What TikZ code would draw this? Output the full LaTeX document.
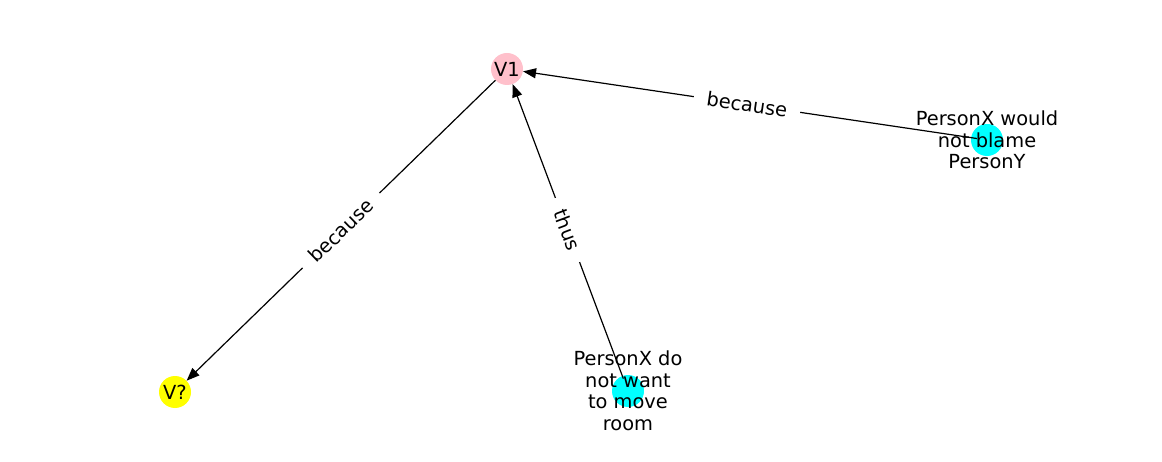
\documentclass[tikz,border=0pt]{standalone}
\usepackage{fontspec}
\setmainfont{DejaVu Sans}
\usetikzlibrary{arrows.meta}
\definecolor{pinkc}{RGB}{255,192,203}
\definecolor{cyanc}{RGB}{0,255,255}
\definecolor{yellowc}{RGB}{255,255,0}
\begin{document}
\begin{tikzpicture}[x=1pt,y=-1pt,font=\fontsize{19.4}{21.5}\selectfont,
  dot/.style={circle,inner sep=0pt,minimum size=32pt,draw=none},
  edge/.style={line width=1.2pt,-{Triangle[length=13pt,width=10pt]}},
  elabel/.style={fill=white,inner xsep=13pt,inner ysep=4pt,sloped},
  txt/.style={align=center,inner sep=0pt}]
\useasboundingbox (0,0) rectangle (1162,462);
\node[dot,fill=pinkc] (v1) at (507,69) {};
\node[dot,fill=yellowc] (vq) at (175,392) {};
\node[dot,fill=cyanc] (pd) at (628,391) {};
\node[dot,fill=cyanc] (pw) at (987,140) {};
\draw[edge] (v1) -- (vq);
\draw[edge,shorten <=-3pt] (pd) -- (v1);
\draw[edge,shorten <=-6pt] (pw) -- (v1);
\path (v1.center) -- (vq.center) node[midway,elabel] (l1) {because};
\path (pd.center) -- (v1.center) node[midway,elabel] (l2) {thus};
\path (pw.center) -- (v1.center) node[midway,elabel] (l3) {because};
\node[txt] (t1) at (v1) {V1};
\node[txt] (t2) at (vq) {V?};
\node[txt] (t3) at (pd) {PersonX do\\not want\\to move\\room};
\node[txt] (t4) at (pw) {PersonX would\\not blame\\PersonY};
\end{tikzpicture}
\end{document}
